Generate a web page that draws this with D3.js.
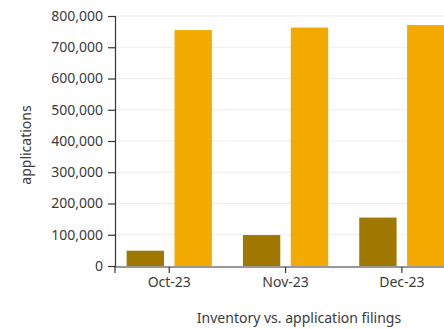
<!DOCTYPE html>
<html>
<head>
<meta charset="utf-8">
<script src="https://cdn.jsdelivr.net/npm/d3@7"></script>
<style>
  html, body { margin: 0; padding: 0; background: #fff; }
  svg { display: block; }
  text { font-family: "Segoe UI", "Noto Sans", sans-serif; }
</style>
</head>
<body>
<svg id="chart" width="444" height="329"></svg>
<script>
const categories = ["Oct-23", "Nov-23", "Dec-23"];
const seriesNames = ["inventory", "applications"];
const inventoryValues = [49000, 99000, 155000];
const applicationValues = [755000, 763000, 771000];
const yTicks = [0, 100000, 200000, 300000, 400000, 500000, 600000, 700000, 800000];
const colors = ["#A07800", "#F2AA00"];
const yTitle = "applications";
const xTitle = "Inventory vs. application filings";

const rows = categories.map((c, i) => ({ cat: c, values: [inventoryValues[i], applicationValues[i]] }));

const svg = d3.select("#chart");
const plotLeft = 115, plotTop = 16, plotBottom = 266;

const y = d3.scaleLinear().domain([0, 800000]).range([plotBottom, plotTop]);
const x0 = d3.scaleBand().domain(categories).range([plotLeft, plotLeft + 341.1])
  .paddingInner(0.267).paddingOuter(0.1);
const x1 = d3.scaleBand().domain(seriesNames).range([0, x0.bandwidth()]).paddingInner(0.22);

// gridlines
svg.append("g").selectAll("line").data(yTicks.filter(d => d > 0)).join("line")
  .attr("x1", plotLeft).attr("x2", 444)
  .attr("y1", d => y(d)).attr("y2", d => y(d))
  .attr("stroke", "#ececec").attr("stroke-width", 1);

// bars
const g = svg.append("g").selectAll("g").data(rows).join("g")
  .attr("transform", d => `translate(${x0(d.cat)},0)`);
g.selectAll("rect").data(d => d.values.map((v, i) => ({ key: seriesNames[i], v, i }))).join("rect")
  .attr("x", d => x1(d.key))
  .attr("width", x1.bandwidth())
  .attr("y", d => y(d.v))
  .attr("height", d => y(0) - y(d.v))
  .attr("fill", d => colors[d.i]);

// y axis
const yAxis = svg.append("g").attr("transform", `translate(${plotLeft},0)`)
  .call(d3.axisLeft(y).tickValues(yTicks).tickFormat(d3.format(",")).tickSize(7).tickSizeOuter(7).tickPadding(5));
// x axis
const xAxis = svg.append("g").attr("transform", `translate(0,${plotBottom + 1})`)
  .call(d3.axisBottom(x0).tickSize(6).tickSizeOuter(6).tickPadding(4));
xAxis.select(".domain").attr("d", `M${plotLeft},6V0H444`);

[yAxis, xAxis].forEach(a => {
  a.selectAll("path, line").attr("stroke", "#333").attr("stroke-width", 1.2);
  a.selectAll("text").attr("fill", "#3a3a3a").attr("font-size", 14)
    .attr("font-family", '"Segoe UI", "Noto Sans", sans-serif');
});

svg.append("text")
  .attr("transform", "translate(31,145) rotate(-90)")
  .attr("text-anchor", "middle").attr("font-size", 14).attr("fill", "#3a3a3a")
  .text(yTitle);

svg.append("text")
  .attr("x", 299).attr("y", 323)
  .attr("text-anchor", "middle").attr("font-size", 14).attr("fill", "#3a3a3a")
  .text(xTitle);
</script>
</body>
</html>
